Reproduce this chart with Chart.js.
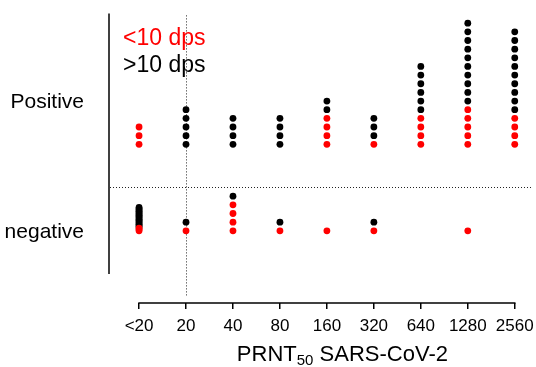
<!DOCTYPE html>
<html>
<head>
<meta charset="utf-8">
<script src="https://cdn.jsdelivr.net/npm/chart.js@4.4.1/dist/chart.umd.min.js"></script>
<style>
  body { margin: 0; background: #fff; }
  #wrap { width: 536px; height: 367px; }
</style>
</head>
<body>
<div id="wrap"><canvas id="dotChart" width="536" height="367"></canvas></div>
<script>
/* ---------------------------------------------------
   data
----------------------------------------------------- */
var titreLabels = ['<20', '20', '40', '80', '160', '320', '640', '1280', '2560'];
var groupLabels = ['negative', 'Positive'];
// dots per titre, split by days post symptoms
var posLow  = [3, 0, 0, 0, 4, 1, 4, 5, 4];    // <10 dps, positive
var posHigh = [0, 5, 4, 4, 2, 3, 6, 10, 10];  // >10 dps, positive
var negLow  = [3, 1, 4, 1, 1, 1, 0, 1, 0];    // <10 dps, negative
var negHigh = [16, 1, 1, 1, 0, 1, 0, 0, 0];   // >10 dps, negative

/* ---------------------------------------------------
   layout
----------------------------------------------------- */
var negBase = 0, posBase = 10;        // row where each group's stack starts
var negSteps = [0.15, 1, 1, 1, 1, 1, 1, 1, 1]; // <20 negatives are packed tight
var posSteps = [1, 1, 1, 1, 1, 1, 1, 1, 1];
var cutoffCol = 1;                    // dotted line at titre 20
var dividerRow = 5.03;
var fontFam = '"Liberation Sans", Arial, sans-serif';

function stack(low, high, base, steps)
{
    var lowPts = [], highPts = [];
    for (var i = 0; i < low.length; i++) {
        for (var k = 0; k < low[i]; k++) {
            lowPts.push({x: i, y: base + k * steps[i]});
        }
        for (var j = 0; j < high[i]; j++) {
            highPts.push({x: i, y: base + (low[i] + j) * steps[i]});
        }
    }
    return {low: lowPts, high: highPts};
}

var pos = stack(posLow, posHigh, posBase, posSteps);
var neg = stack(negLow, negHigh, negBase, negSteps);

function dots(label, color, pts)
{
    return {
        label: label,
        data: pts,
        backgroundColor: color,
        borderWidth: 0,
        pointRadius: 3.4,
        pointHoverRadius: 3.4
    };
}

function noPadding(axis)
{
    axis.paddingTop = 0;
    axis.paddingBottom = 0;
    axis.paddingLeft = 0;
    axis.paddingRight = 0;
}

/* ---------------------------------------------------
   axes, dotted lines, legend text, axis title
----------------------------------------------------- */
var framePlugin = {
    id: 'frame',
    beforeDatasetsDraw: function (chart) {
        var ctx = chart.ctx, a = chart.chartArea;
        var xs = chart.scales.x, ys = chart.scales.y;
        ctx.save();
        ctx.strokeStyle = '#000';
        ctx.lineWidth = 1.5;
        // y axis
        ctx.beginPath();
        ctx.moveTo(a.left, a.top + 10);
        ctx.lineTo(a.left, a.bottom - 29);
        ctx.stroke();
        // x axis, first to last tick
        ctx.beginPath();
        ctx.moveTo(xs.getPixelForValue(0) - 0.75, a.bottom);
        ctx.lineTo(xs.getPixelForValue(titreLabels.length - 1) + 0.75, a.bottom);
        ctx.stroke();
        // dotted reference lines
        ctx.strokeStyle = '#222';
        ctx.lineWidth = 1;
        ctx.setLineDash([1, 2]);
        var cx = Math.round(xs.getPixelForValue(cutoffCol)) + 0.5;
        ctx.beginPath();
        ctx.moveTo(cx, a.top + 12);
        ctx.lineTo(cx, a.bottom - 6);
        ctx.stroke();
        var dy = Math.round(ys.getPixelForValue(dividerRow)) + 0.5;
        ctx.beginPath();
        ctx.moveTo(a.left + 1, dy);
        ctx.lineTo(a.right, dy);
        ctx.stroke();
        ctx.restore();
    },
    afterDraw: function (chart) {
        var ctx = chart.ctx, a = chart.chartArea;
        var xs = chart.scales.x;
        var sets = chart.data.datasets;
        ctx.save();
        ctx.textBaseline = 'alphabetic';
        ctx.textAlign = 'left';
        // legend
        ctx.font = '23px ' + fontFam;
        ctx.fillStyle = sets[0].backgroundColor;
        ctx.fillText(sets[0].label, a.left + 14, a.top + 42);
        ctx.fillStyle = sets[2].backgroundColor;
        ctx.fillText(sets[2].label, a.left + 14, a.top + 69);
        // x title with subscript
        var big = '22px ' + fontFam, small = '15px ' + fontFam;
        var p1 = 'PRNT', sub = '50', p2 = ' SARS-CoV-2';
        ctx.font = big;
        var w1 = ctx.measureText(p1).width, w3 = ctx.measureText(p2).width;
        ctx.font = small;
        var w2 = ctx.measureText(sub).width;
        var mid = (xs.getPixelForValue(0) + xs.getPixelForValue(titreLabels.length - 1)) / 2 + 15.5;
        var x0 = mid - (w1 + w2 + w3) / 2;
        var base = a.bottom + 58;
        ctx.fillStyle = '#000';
        ctx.font = big;
        ctx.fillText(p1, x0, base);
        ctx.font = small;
        ctx.fillText(sub, x0 + w1, base + 4);
        ctx.font = big;
        ctx.fillText(p2, x0 + w1 + w2, base);
        ctx.restore();
    }
};

var ctx = document.getElementById('dotChart').getContext('2d');
var myChart = new Chart(ctx, {
    type: 'scatter',
    data: {
        datasets: [
            dots('<10 dps', '#ff0000', pos.low),
            dots('<10 dps', '#ff0000', neg.low),
            dots('>10 dps', '#000000', pos.high),
            dots('>10 dps', '#000000', neg.high)
        ]
    },
    options: {
        responsive: false,
        animation: false,
        layout: { padding: 0 },
        plugins: {
            legend: { display: false },
            tooltip: { enabled: false }
        },
        scales: {
            x: {
                type: 'linear',
                min: -0.64,
                max: 8.38,
                afterBuildTicks: function (axis) {
                    axis.ticks = titreLabels.map(function (t, i) { return {value: i}; });
                },
                afterFit: function (axis) { axis.height = 64; noPadding(axis); },
                ticks: {
                    autoSkip: false,
                    maxRotation: 0,
                    minRotation: 0,
                    padding: 7,
                    color: '#000',
                    font: { family: fontFam, size: 17 },
                    callback: function (v) { return titreLabels[v]; }
                },
                grid: {
                    display: true,
                    drawOnChartArea: false,
                    drawTicks: true,
                    tickLength: 6,
                    color: '#000',
                    lineWidth: 1.5
                },
                border: { display: false }
            },
            y: {
                type: 'linear',
                min: -8.343,
                max: 26.286,
                afterBuildTicks: function (axis) {
                    axis.ticks = [{value: negBase - 0.15}, {value: posBase + 4.9}];
                },
                afterFit: function (axis) { axis.width = 109; noPadding(axis); },
                ticks: {
                    padding: 17,
                    color: '#000',
                    font: { family: fontFam, size: 21 },
                    callback: function (v, i) { return groupLabels[i]; }
                },
                grid: { display: false },
                border: { display: false }
            }
        }
    },
    plugins: [framePlugin]
});
</script>
</body>
</html>
